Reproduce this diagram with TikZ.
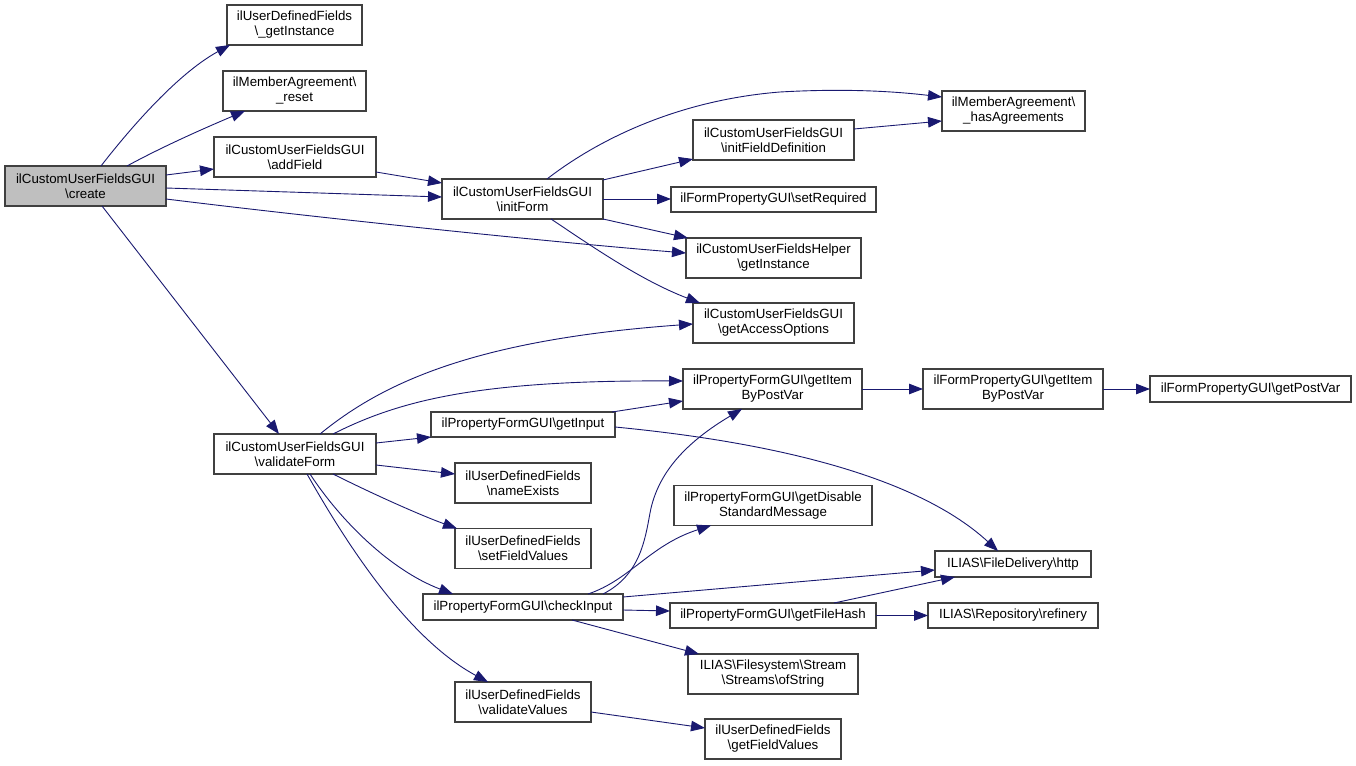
\documentclass[tikz,border=0pt]{standalone}
\usepackage{fontspec}
\setmainfont{Liberation Sans}
\usetikzlibrary{arrows.meta}
\definecolor{edgeblue}{HTML}{191970}
\definecolor{boxline}{HTML}{404040}
\definecolor{boxgray}{HTML}{BFBFBF}
\newcommand\bsl{\textbackslash}
\begin{document}
\begin{tikzpicture}[x=1pt,y=-1pt,
  box/.style={draw=boxline,line width=1.1pt,fill=white,inner sep=0pt,outer sep=0pt,
    align=center,font=\fontsize{13.3}{15}\selectfont},
  e/.style={draw=edgeblue,line width=0.9pt,-{Triangle[length=14pt,width=10.5pt]}}]
\fill[white] (0,0) rectangle (1356,765);
\useasboundingbox (0,0) rectangle (1356,765);
% nodes
\node[box,fill=boxgray,minimum width=161pt,minimum height=40pt] (create) at (85.5,186) {ilCustomUserFieldsGUI\\\bsl create};
\node[box,minimum width=135pt,minimum height=40pt] (getInst) at (294.5,25) {ilUserDefinedFields\\\bsl\_getInstance};
\node[box,minimum width=143pt,minimum height=40pt] (reset) at (294.5,91) {ilMemberAgreement\bsl\\\_reset};
\node[box,minimum width=162pt,minimum height=40pt] (addField) at (295,157) {ilCustomUserFieldsGUI\\\bsl addField};
\node[box,minimum width=161pt,minimum height=40pt] (initForm) at (522.5,199) {ilCustomUserFieldsGUI\\\bsl initForm};
\node[box,minimum width=143pt,minimum height=40pt] (hasAgr) at (1013.5,111) {ilMemberAgreement\bsl\\\_hasAgreements};
\node[box,minimum width=161pt,minimum height=40pt] (initFD) at (773.5,140) {ilCustomUserFieldsGUI\\\bsl initFieldDefinition};
\node[box,minimum width=205pt,minimum height=25pt] (setReq) at (773.5,199.5) {ilFormPropertyGUI\bsl setRequired};
\node[box,minimum width=175pt,minimum height=40pt] (helper) at (773.5,258) {ilCustomUserFieldsHelper\\\bsl getInstance};
\node[box,minimum width=161pt,minimum height=40pt] (access) at (773.5,323) {ilCustomUserFieldsGUI\\\bsl getAccessOptions};
\node[box,minimum width=179pt,minimum height=40pt] (pfgItem) at (772.5,389) {ilPropertyFormGUI\bsl getItem\\ByPostVar};
\node[box,minimum width=180pt,minimum height=40pt] (fpgItem) at (1013,389) {ilFormPropertyGUI\bsl getItem\\ByPostVar};
\node[box,minimum width=201pt,minimum height=26pt] (postVar) at (1250.5,389) {ilFormPropertyGUI\bsl getPostVar};
\node[box,minimum width=162pt,minimum height=40pt] (validateForm) at (295,454) {ilCustomUserFieldsGUI\\\bsl validateForm};
\node[box,minimum width=184pt,minimum height=25pt] (getInput) at (523,424.5) {ilPropertyFormGUI\bsl getInput};
\node[box,minimum width=136pt,minimum height=40pt] (nameEx) at (523,483) {ilUserDefinedFields\\\bsl nameExists};
\node[box,minimum width=136pt,minimum height=40pt] (setFV) at (523,548.5) {ilUserDefinedFields\\\bsl setFieldValues};
\node[box,minimum width=200pt,minimum height=26pt] (checkInput) at (523,607) {ilPropertyFormGUI\bsl checkInput};
\node[box,minimum width=136pt,minimum height=40pt] (validateV) at (523,702) {ilUserDefinedFields\\\bsl validateValues};
\node[box,minimum width=198pt,minimum height=40pt] (getDisable) at (773,505.5) {ilPropertyFormGUI\bsl getDisable\\StandardMessage};
\node[box,minimum width=156pt,minimum height=26pt] (http) at (1013,564) {ILIAS\bsl FileDelivery\bsl http};
\node[box,minimum width=206pt,minimum height=25pt] (fileHash) at (773,615.5) {ilPropertyFormGUI\bsl getFileHash};
\node[box,minimum width=170pt,minimum height=25pt] (refinery) at (1013,615.5) {ILIAS\bsl Repository\bsl refinery};
\node[box,minimum width=170pt,minimum height=40pt] (ofString) at (773,674) {ILIAS\bsl Filesystem\bsl Stream\\\bsl Streams\bsl ofString};
\node[box,minimum width=136pt,minimum height=40pt] (getFV) at (773,739) {ilUserDefinedFields\\\bsl getFieldValues};
% edges
\draw[e] (create.north -| 101,0) .. controls (125,135) and (175,75) .. (getInst.south -| 230,0);
\draw[e] (create.north -| 127,0) .. controls (160,148) and (200,130) .. (reset.south -| 245,0);
\draw[e] (create.east |- 0,175) -- (addField.west |- 0,169);
\draw[e] (create.east |- 0,188) -- (initForm.west |- 0,197);
\draw[e] (create.east |- 0,199) .. controls (320,218) and (550,242) .. (helper.west |- 0,253);
\draw[e] (create.south -| 102,0) -- (validateForm.north -| 279,0);
\draw[e] (addField.east |- 0,172) -- (initForm.west |- 0,183);
\draw[e] (initForm.north -| 547,0) .. controls (600,138) and (680,100) .. (780,92) .. controls (850,88) and (900,92) .. (hasAgr.west |- 0,97);
\draw[e] (initForm.east |- 0,180) -- (initFD.west |- 0,159);
\draw[e] (initForm.east |- 0,199) -- (setReq.west |- 0,199);
\draw[e] (initForm.south -| 603,0) -- (helper.north -| 688,0);
\draw[e] (initForm.south -| 551,0) .. controls (590,245) and (640,280) .. (access.north -| 700,0);
\draw[e] (initFD.east |- 0,129) -- (hasAgr.west |- 0,121);
\draw[e] (validateForm.north -| 320,0) .. controls (380,385) and (470,340) .. (access.west |- 0,324);
\draw[e] (validateForm.north -| 333,0) .. controls (400,400) and (480,380) .. (pfgItem.west |- 0,381);
\draw[e] (validateForm.east |- 0,443) -- (getInput.west |- 0,437);
\draw[e] (validateForm.east |- 0,465) -- (nameEx.west |- 0,474);
\draw[e] (validateForm.south -| 333,0) .. controls (375,495) and (420,515) .. (setFV.north -| 457,0);
\draw[e] (validateForm.south -| 310,0) .. controls (340,520) and (390,570) .. (checkInput.north -| 453,0);
\draw[e] (validateForm.south -| 307,0) .. controls (350,550) and (410,640) .. (validateV.north -| 488,0);
\draw[e] (getInput.north -| 612,0) -- (pfgItem.west |- 0,401);
\draw[e] (getInput.east |- 0,427) .. controls (750,440) and (910,470) .. (http.north -| 998,0);
\draw[e] (pfgItem.east) -- (fpgItem.west);
\draw[e] (fpgItem.east) -- (postVar.west);
\draw[e] (checkInput.north -| 603,0) .. controls (640,575) and (645,540) .. (650,513) .. controls (658,470) and (690,440) .. (pfgItem.south -| 742,0);
\draw[e] (checkInput.north -| 588,0) .. controls (630,580) and (650,545) .. (getDisable.south -| 711,0);
\draw[e] (checkInput.east |- 0,597) -- (http.west |- 0,570);
\draw[e] (checkInput.east |- 0,610) -- (fileHash.west |- 0,611);
\draw[e] (checkInput.south -| 572,0) -- (ofString.north -| 699,0);
\draw[e] (fileHash.north -| 834,0) -- (http.south -| 955,0);
\draw[e] (fileHash.east) -- (refinery.west);
\draw[e] (validateV.east |- 0,712) -- (getFV.west |- 0,728);
\end{tikzpicture}
\end{document}
